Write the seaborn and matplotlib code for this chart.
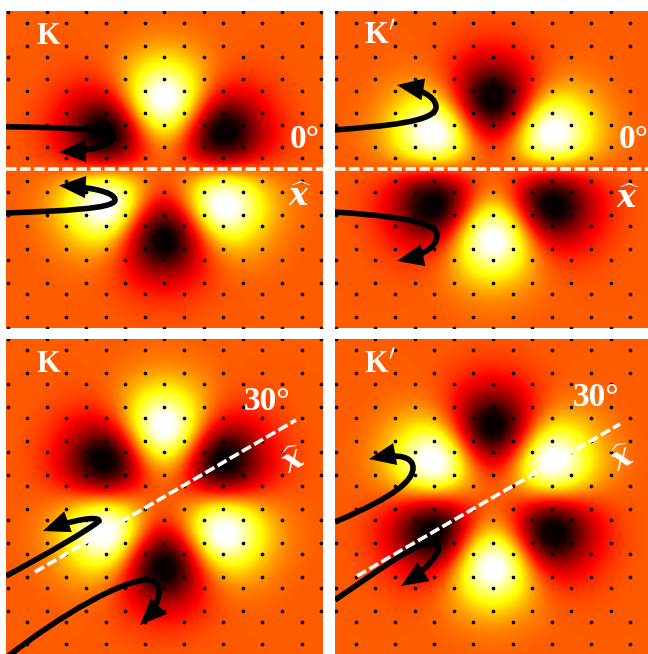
import numpy as np
import pandas as pd
import matplotlib
matplotlib.use("Agg")
import matplotlib.pyplot as plt
from matplotlib.patches import FancyArrowPatch
from matplotlib.path import Path
import seaborn as sns

sns.set_theme(style="white")
plt.rcParams["mathtext.fontset"] = "dejavuserif"

W, H = 648, 654

# upper-right quadrant of the K' amplitude, read every 16 px from the centre
amp_row_1 = [-.05, .08, .33, .60, .66, .50, .28, .13, .05, .01, 0]
amp_row_2 = [-.26, -.06, .42, .90, .95, .74, .42, .20, .07, .02, 0]
amp_row_3 = [-.63, -.39, .16, .74, .90, .67, .40, .19, .07, .02, 0]
amp_row_4 = [-.96, -.73, -.18, .32, .52, .44, .27, .13, .05, .01, 0]
amp_row_5 = [-.95, -.74, -.34, .03, .21, .22, .15, .08, .025, 0, 0]
amp_row_6 = [-.61, -.51, -.29, -.07, .05, .08, .06, .03, .01, 0, 0]
amp_row_7 = [-.33, -.28, -.18, -.07, 0, .02, .02, .01, 0, 0, 0]
amp_row_8 = [-.14, -.12, -.08, -.04, -.01, 0, 0, 0, 0, 0, 0]
amp_row_9 = [-.05, -.05, -.03, -.01, 0, 0, 0, 0, 0, 0, 0]
amp_row_10 = [-.01, -.01, 0, 0, 0, 0, 0, 0, 0, 0, 0]
amp_rows = [amp_row_1, amp_row_2, amp_row_3, amp_row_4, amp_row_5,
            amp_row_6, amp_row_7, amp_row_8, amp_row_9, amp_row_10]

# lattice sites, px offsets from a panel's centre
site_rows_y = [-157.3, -146.3, -123.3, -112.3, -89.7, -78.3, -55.7, -44.3, -22, -10.7,
               12, 23.3, 46, 57.3, 80, 91.3, 114, 125.3, 147.7, 159]
site_rows_kind = [0, 1, 1, 0, 0, 1, 1, 0, 0, 1, 1, 0, 0, 1, 1, 0, 0, 1, 1, 0]
site_x_0 = [-156.8, -117.6, -78.4, -39.2, 0, 39.2, 78.4, 117.6, 156.8]
site_x_1 = [-137.2, -98, -58.8, -19.6, 19.6, 58.8, 98, 137.2]

panel_names = ["K", "K'", "K30", "K'30"]
panel_left = [6, 335, 6, 335]
panel_right = [323, 648, 323, 648]
panel_top = [11, 11, 339, 339]
panel_bottom = [328, 328, 654, 654]
panel_cx = [164.3, 493, 164.3, 493]
panel_cy = [169, 169, 496.7, 496.7]
panel_sign = [-1, 1, -1, 1]
panel_label = ["K", "K$'$", "K", "K$'$"]
label_xy = [(48, 36), (380, 36), (48, 365), (380, 365)]
angle_label = ["0°", "0°", "30°", "30°"]
angle_xy = [(305, 140), (634, 140), (267, 401), (596, 398)]
xhat_xy = [(300, 197), (628, 200), (295, 461), (624, 459)]
xhat_rot = [0, 0, 30, 30]

dash_x = [(6, 323), (335, 648), (35, 296), (357, 620)]
dash_y = [(169, 169), (169, 169), (572, 420), (576, 424)]

# Bezier arrows: start, control, control, turn, control, control, tip (figure px)
arrows_by_panel = [
    [[(6, 126.7), (50, 127.5), (113, 128), (113, 137), (113, 147), (85, 151), (59, 152)],
     [(6, 213), (60, 211), (115, 209), (115, 200), (115, 191), (85, 187), (59, 185.5)]],
    [[(334, 130), (385, 126), (436, 122), (436, 107), (436, 95), (415, 88), (397, 85)],
     [(334, 212), (380, 215), (437, 220), (437, 235), (437, 250), (415, 257), (397, 261)]],
    [[(6, 576), (40, 558), (92, 528), (99, 521), (99, 515), (70, 521), (43, 531)],
     [(6, 658), (60, 615), (125, 578), (150, 580), (165, 583), (160, 605), (140, 625)]],
    [[(335, 522), (370, 507), (413, 487), (413, 468), (413, 452), (385, 456), (369, 459)],
     [(335, 600), (375, 573), (425, 535), (437, 544), (445, 552), (420, 574), (401, 586)]],
]

quad = np.array(amp_rows, dtype=float)
right = np.vstack([quad[::-1], np.zeros((1, 11)), -quad])
grid = np.hstack([right[:, :0:-1], right])

sites = pd.DataFrame(
    [(x, y) for y, k in zip(site_rows_y, site_rows_kind)
     for x in (site_x_1 if k else site_x_0)], columns=["x", "y"])

fig = plt.figure(figsize=(W / 100, H / 100), dpi=100, facecolor="white")
bold = dict(color="white", family="Liberation Serif", fontweight="bold",
            ha="center", va="center")

for i, name in enumerate(panel_names):
    l, r, t, b = panel_left[i], panel_right[i], panel_top[i], panel_bottom[i]
    cx, cy = panel_cx[i], panel_cy[i]
    ax = fig.add_axes([l / W, 1 - b / H, (r - l) / W, (b - t) / H])
    ax.imshow(panel_sign[i] * grid, cmap="hot", vmin=-.82, vmax=.82, origin="upper",
              extent=[-168, 168, 168, -168], interpolation="bicubic", aspect="auto")
    sns.scatterplot(data=sites, x="x", y="y", ax=ax, color="black", s=7,
                    linewidth=0, legend=False, zorder=3)
    sns.lineplot(x=np.array(dash_x[i]) - cx, y=np.array(dash_y[i]) - cy, ax=ax,
                 sort=False, estimator=None, color="white", linewidth=2.6,
                 dashes=(2.9, 1.0), zorder=4)
    for pts in arrows_by_panel[i]:
        v = np.array(pts, dtype=float) - [cx, cy]
        path = Path(v, [Path.MOVETO] + [Path.CURVE4] * 6)
        ax.add_patch(FancyArrowPatch(path=path, arrowstyle="-|>,head_length=12,head_width=5",
                                     mutation_scale=1, lw=4.0, color="black", zorder=5,
                                     joinstyle="miter", capstyle="butt"))
    ax.set_xlim(l - cx, r - cx)
    ax.set_ylim(b - cy, t - cy)
    ax.set_xlabel("")
    ax.set_ylabel("")
    ax.set_xticks([])
    ax.set_yticks([])
    for s in ax.spines.values():
        s.set_visible(False)
    ax.text(label_xy[i][0] - cx, label_xy[i][1] - cy, panel_label[i], fontsize=22, **bold)
    ax.text(angle_xy[i][0] - cx, angle_xy[i][1] - cy, angle_label[i], fontsize=24, **bold)
    ax.text(xhat_xy[i][0] - cx, xhat_xy[i][1] - cy, r"$\widehat{\mathbfit{x}}$", fontsize=23,
            color="white", ha="center", va="center", rotation=xhat_rot[i], rotation_mode="anchor")

fig.savefig("out.png", dpi=100, facecolor="white")
